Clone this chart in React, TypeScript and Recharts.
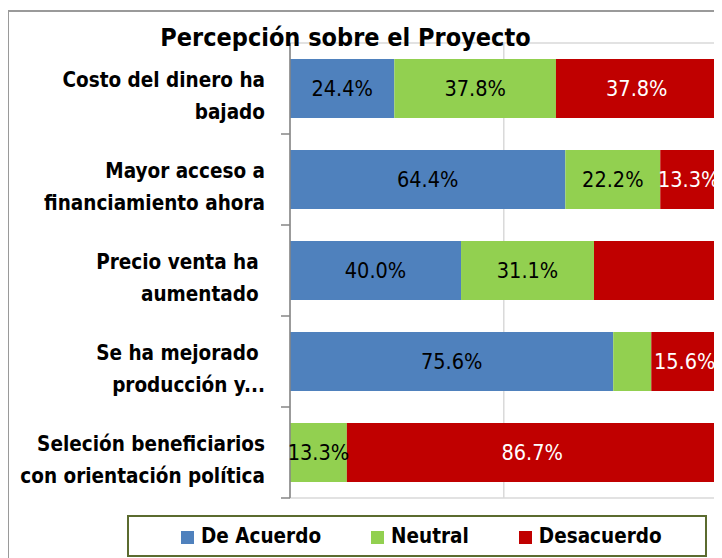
import { Bar, BarChart, CartesianGrid, LabelList, ReferenceArea, XAxis, YAxis } from "recharts";

const categories = [
  "Costo del dinero ha\nbajado",
  "Mayor acceso a\nfinanciamiento ahora",
  "Precio venta ha \naumentado ",
  "Se ha mejorado \nproducción y...",
  "Seleción beneficiarios\ncon orientación política",
];
const deAcuerdo = [24.4, 64.4, 40.0, 75.6, 0];
const neutral = [37.8, 22.2, 31.1, 8.9, 13.3];
const desacuerdo = [37.8, 13.3, 28.9, 15.6, 86.7];
const xTicks = [0, 50, 100];

// labels that were removed in the original sheet
const hiddenLabels = new Set(["desacuerdo:2", "neutral:3"]);

const SERIES = [
  { key: "deAcuerdo", name: "De Acuerdo", color: "#4F81BD", text: "#000000" },
  { key: "neutral", name: "Neutral", color: "#92D050", text: "#000000" },
  { key: "desacuerdo", name: "Desacuerdo", color: "#C00000", text: "#FFFFFF" },
];

const data = categories.map((name, i) => ({
  name,
  deAcuerdo: deAcuerdo[i],
  neutral: neutral[i],
  desacuerdo: desacuerdo[i],
}));

const FONT = "'DejaVu Sans Condensed', 'DejaVu Sans', sans-serif";

function CategoryTick(props: any) {
  const { x, y, payload } = props;
  const half = payload?.offset || 45.5;
  const lines = String(payload.value).split("\n");
  return (
    <g>
      <line x1={x + 16} x2={x + 25} y1={y + half} y2={y + half} stroke="#868686" strokeWidth={1.5} />
      <text
        textAnchor="end"
        fontFamily={FONT}
        fontWeight="bold"
        fontSize={20.5}
        fill="#000"
        style={{ whiteSpace: "pre", fontStretch: "condensed" }}
      >
        {lines.map((l, i) => (
          <tspan key={i} x={x} y={y - 1.5 + i * 32}>
            {l}
          </tspan>
        ))}
      </text>
    </g>
  );
}

function makeLabel(seriesKey: string, color: string) {
  return (props: any) => {
    const { x, y, width, height, value, index } = props;
    if (!value || hiddenLabels.has(`${seriesKey}:${index}`)) return null;
    return (
      <text
        x={x + width / 2}
        y={y + height / 2}
        textAnchor="middle"
        dominantBaseline="central"
        fontFamily={FONT}
        fontSize={21.5}
        fill={color}
        style={{ fontStretch: "condensed" }}
      >
        {Number(value).toFixed(1)}%
      </text>
    );
  };
}

export default function App() {
  return (
    <div
      style={{
        position: "relative",
        margin: "-8px 0 0 -8px",
        width: 722,
        height: 558,
        overflow: "hidden",
        background: "#fff",
      }}
    >
      <div
        style={{
          position: "absolute",
          left: 7,
          top: 10,
          width: 760,
          height: 600,
          border: "2px solid #9a9a9a",
        }}
      />
      <div style={{ position: "absolute", left: 0, top: 0 }}>
        <BarChart
          width={722}
          height={558}
          data={data}
          layout="vertical"
          margin={{ top: 43, right: 4, bottom: 60, left: 0 }}
          barCategoryGap="17.5%"
        >
          <CartesianGrid horizontal={false} stroke="#d9d9d9" strokeWidth={1.5} />
          <ReferenceArea x1={0} x2={100} fill="none" stroke="#d9d9d9" strokeWidth={1.5} />
          <XAxis type="number" domain={[0, 100]} ticks={xTicks} hide />
          <YAxis
            type="category"
            dataKey="name"
            width={290}
            axisLine={{ stroke: "#868686", strokeWidth: 1.5 }}
            tickLine={false}
            tickSize={0}
            tickMargin={25}
            tick={<CategoryTick />}
            interval={0}
          />
          {SERIES.map((s) => (
            <Bar key={s.key} dataKey={s.key} name={s.name} stackId="a" fill={s.color} isAnimationActive={false}>
              <LabelList dataKey={s.key} content={makeLabel(s.key, s.text)} />
            </Bar>
          ))}
        </BarChart>
      </div>
      <div
        style={{
          position: "absolute",
          left: 0,
          top: 25,
          width: 691,
          textAlign: "center",
          fontFamily: FONT,
          fontStretch: "condensed",
          fontWeight: "bold",
          fontSize: 25,
          lineHeight: 1,
          color: "#000",
          pointerEvents: "none",
        }}
      >
        Percepción sobre el Proyecto
      </div>
      <div
        style={{
          position: "absolute",
          left: 127,
          top: 515,
          width: 580,
          height: 42,
          boxSizing: "border-box",
          border: "2px solid #5b6b2f",
          display: "flex",
          alignItems: "center",
          paddingLeft: 52,
          gap: 50,
          fontFamily: FONT,
          fontStretch: "condensed",
          fontWeight: "bold",
          fontSize: 20.5,
          color: "#000",
        }}
      >
        {SERIES.map((s) => (
          <div key={s.key} style={{ display: "flex", alignItems: "center", gap: 7 }}>
            <span style={{ display: "inline-block", width: 13, height: 13, marginTop: 3, background: s.color }} />
            <span>{s.name}</span>
          </div>
        ))}
      </div>
    </div>
  );
}
